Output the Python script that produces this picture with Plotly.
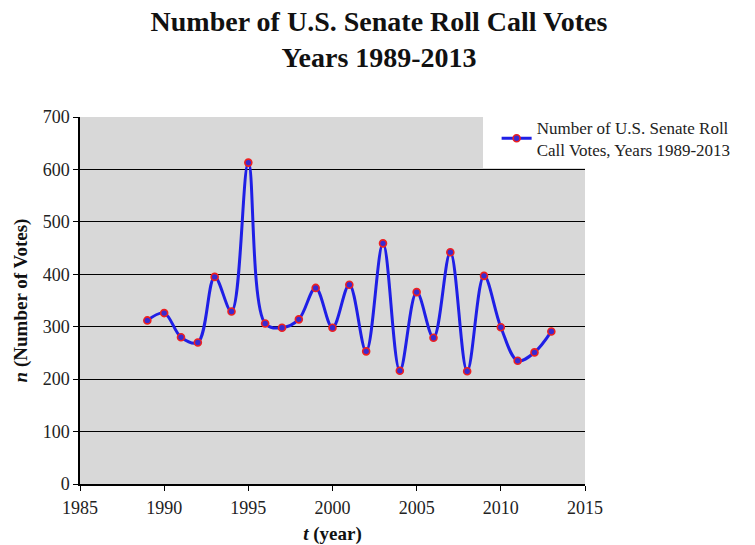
import plotly.graph_objects as go

years = [1989, 1990, 1991, 1992, 1993, 1994, 1995, 1996, 1997, 1998, 1999, 2000,
         2001, 2002, 2003, 2004, 2005, 2006, 2007, 2008, 2009, 2010, 2011, 2012, 2013]
votes = [312, 326, 280, 270, 395, 329, 613, 306, 298, 314, 374, 298,
         380, 253, 459, 216, 366, 279, 442, 215, 397, 299, 235, 251, 291]
x_ticks = [1985, 1990, 1995, 2000, 2005, 2010, 2015]
y_ticks = [0, 100, 200, 300, 400, 500, 600, 700]

serif = "Liberation Serif, Times New Roman, serif"

fig = go.Figure()
fig.add_trace(go.Scatter(
    x=years, y=votes, mode="lines+markers",
    name="Number of U.S. Senate Roll<br>Call Votes, Years 1989-2013",
    line=dict(color="#1f1fe6", width=3, shape="spline", smoothing=1.0),
    marker=dict(symbol="circle", size=7, color="#3a2ad0",
                line=dict(color="#ee2020", width=1.6)),
))

fig.add_shape(type="rect", xref="paper", yref="paper",
              x0=0.798, x1=1.4, y0=0.861, y1=1.06,
              fillcolor="white", line=dict(width=0), layer="above")

fig.update_layout(
    width=755, height=545,
    margin=dict(l=80, r=170, t=117, b=61),
    paper_bgcolor="white",
    plot_bgcolor="#d8d8d8",
    font=dict(family=serif, color="#222222", size=16),
    title=dict(text="<b>Number of U.S. Senate Roll Call Votes<br>Years 1989-2013</b>",
               x=0.502, xanchor="center", y=0.943, yanchor="middle",
               font=dict(family=serif, size=28, color="#111111")),
    showlegend=True,
    legend=dict(x=0.825, y=1.02, xanchor="left", yanchor="top",
                bgcolor="rgba(0,0,0,0)", borderwidth=0,
                font=dict(family=serif, size=17, color="#222222"),
                itemwidth=30, tracegroupgap=0),
    xaxis=dict(range=[1985, 2015], tickvals=x_ticks, ticktext=[str(v) for v in x_ticks],
               showgrid=False, zeroline=False, showline=True, linecolor="black", linewidth=1.5,
               ticks="outside", ticklen=5, tickcolor="black", automargin=False,
               ticklabelstandoff=2,
               tickfont=dict(size=18),
               title=dict(text="<b><i>t</i> (year)</b>", standoff=18,
                          font=dict(family=serif, size=19, color="#111111"))),
    yaxis=dict(range=[0, 700], tickvals=y_ticks, ticktext=[str(v) for v in y_ticks],
               showgrid=True, gridcolor="black", gridwidth=1.2, zeroline=False,
               showline=True, linecolor="black", linewidth=1.5,
               ticks="outside", ticklen=5, tickcolor="black", automargin=False,
               tickfont=dict(size=18),
               title=dict(text="<b><i>n</i> (Number of Votes)</b>", standoff=10,
                          font=dict(family=serif, size=19, color="#111111"))),
)

fig.write_html("out.html")
